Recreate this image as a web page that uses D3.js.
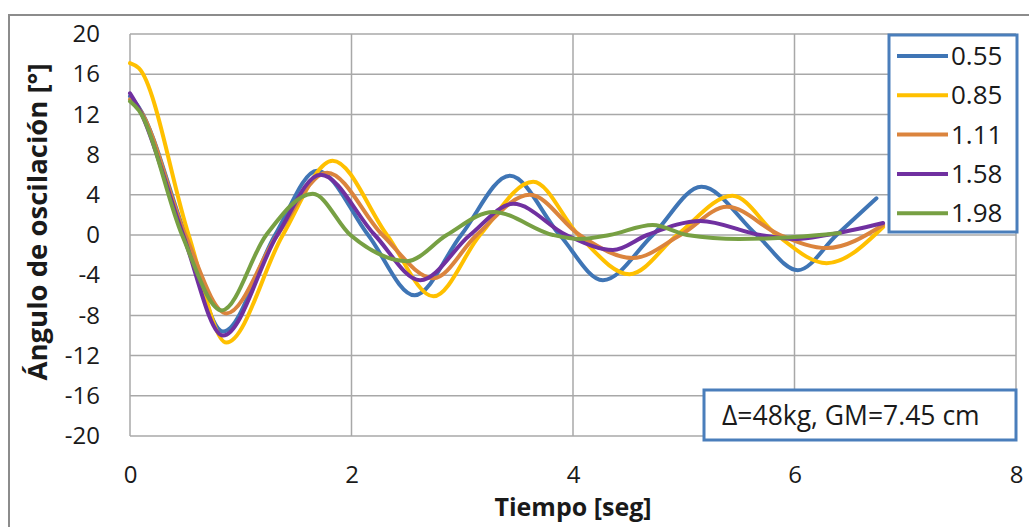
<!DOCTYPE html>
<html>
<head>
<meta charset="utf-8">
<script src="https://cdn.jsdelivr.net/npm/d3@7"></script>
<style>
  body { margin: 0; background: #fff; }
  svg { display: block; font-family: "Open Sans", sans-serif; }
</style>
</head>
<body>
<div id="chart"></div>
<script>
// series: [time (s), angle (deg)]
const s055 = [[0,13.8],[0.08,12.7],[0.5,0],[0.84,-9.6],[1.31,0],[1.69,6.4],[2.15,0],[2.57,-6.0],[2.99,0],[3.43,5.9],[3.88,0],[4.27,-4.5],[4.72,0],[5.16,4.8],[5.66,0],[6.03,-3.5],[6.38,0],[6.74,3.65]];
const s085 = [[0,17.1],[0.08,16.6],[0.53,0],[0.87,-10.7],[1.38,0],[1.83,7.4],[2.32,0],[2.74,-6.1],[3.16,0],[3.64,5.3],[4.05,0],[4.51,-3.9],[4.94,0],[5.44,3.9],[5.84,0],[6.29,-2.8],[6.8,0.8]];
const s111 = [[0,13.5],[0.08,12.6],[0.5,0],[0.87,-7.8],[1.33,0],[1.78,6.2],[2.28,0],[2.74,-4.3],[3.13,0],[3.61,4.0],[4.06,0],[4.54,-2.3],[4.97,0],[5.39,2.8],[5.87,0],[6.29,-1.3],[6.8,1.0]];
const s158 = [[0,14.1],[0.08,12.6],[0.48,0],[0.84,-10.0],[1.33,0],[1.72,6.0],[2.21,0],[2.62,-4.5],[3.07,0],[3.46,3.1],[3.94,0],[4.36,-1.5],[4.67,0],[5.15,1.4],[5.69,0],[6.02,-0.4],[6.29,0],[6.8,1.2]];
const s198 = [[0,13.3],[0.08,12.4],[0.47,0],[0.83,-7.5],[1.23,0],[1.65,4.1],[1.99,0],[2.5,-2.6],[2.86,0],[3.28,2.3],[3.82,0],[4.06,-0.4],[4.33,0],[4.72,1.0],[5.03,0],[5.5,-0.4],[6.0,-0.2],[6.41,0.2]];

const seriesNames = ['0.55', '0.85', '1.11', '1.58', '1.98'];
const seriesColors = ['#3F75B5', '#FFC000', '#DB843D', '#7030A0', '#77A043'];
const seriesData = [s055, s085, s111, s158, s198];

const xTicks = [0, 2, 4, 6, 8];
const yTicks = [-20, -16, -12, -8, -4, 0, 4, 8, 12, 16, 20];

const width = 1029, height = 527;
const margin = { top: 34, right: 13, bottom: 91, left: 130 };
const innerW = width - margin.left - margin.right;
const innerH = height - margin.top - margin.bottom;

const svg = d3.select('#chart').append('svg')
  .attr('width', width)
  .attr('height', height);

// outer chart border
svg.append('rect')
  .attr('x', 9).attr('y', 15)
  .attr('width', 1060).attr('height', 560)
  .attr('fill', 'none')
  .attr('stroke', '#8c8c8c')
  .attr('stroke-width', 2);

const g = svg.append('g')
  .attr('transform', `translate(${margin.left},${margin.top})`);

const x = d3.scaleLinear().domain([0, 8]).range([0, innerW]);
const y = d3.scaleLinear().domain([-20, 20]).range([innerH, 0]);

// grid
g.selectAll('.hgrid')
  .data(yTicks)
  .join('line')
  .attr('x1', 0).attr('x2', innerW)
  .attr('y1', d => y(d)).attr('y2', d => y(d))
  .attr('stroke', '#a8a8a8').attr('stroke-width', 1.5);

g.selectAll('.vgrid')
  .data(xTicks)
  .join('line')
  .attr('y1', 0).attr('y2', innerH)
  .attr('x1', d => x(d)).attr('x2', d => x(d))
  .attr('stroke', '#a8a8a8').attr('stroke-width', 1.5);

// axes (labels only), plain hyphen for negatives like the original
const yAxis = g.append('g')
  .call(d3.axisLeft(y).tickValues(yTicks).tickFormat(d => String(d)).tickSize(0).tickPadding(30));
const xAxis = g.append('g')
  .attr('transform', `translate(0,${innerH})`)
  .call(d3.axisBottom(x).tickValues(xTicks).tickFormat(d => String(d)).tickSize(0).tickPadding(30));
[yAxis, xAxis].forEach(a => {
  a.select('.domain').remove();
  a.selectAll('text')
    .attr('font-family', '"Open Sans", sans-serif')
    .attr('font-size', 24)
    .attr('fill', '#1a1a1a');
});

// lines
const line = d3.line()
  .x(d => x(d[0]))
  .y(d => y(d[1]))
  .curve(d3.curveMonotoneX);

g.selectAll('.series')
  .data(seriesData)
  .join('path')
  .attr('d', line)
  .attr('fill', 'none')
  .attr('stroke', (d, i) => seriesColors[i])
  .attr('stroke-width', 4)
  .attr('stroke-linecap', 'round')
  .attr('stroke-linejoin', 'round');

// legend
const legend = svg.append('g');
legend.append('rect')
  .attr('x', 889).attr('y', 35)
  .attr('width', 128).attr('height', 197)
  .attr('fill', '#fff')
  .attr('stroke', '#4A7EBB')
  .attr('stroke-width', 3);

const items = legend.selectAll('.item')
  .data(seriesNames)
  .join('g')
  .attr('transform', (d, i) => `translate(897,${56 + i * 39.3})`);
items.append('line')
  .attr('x1', 0).attr('x2', 51)
  .attr('stroke', (d, i) => seriesColors[i])
  .attr('stroke-width', 4);
items.append('text')
  .attr('x', 54).attr('y', 9)
  .attr('font-size', 26)
  .attr('fill', '#1a1a1a')
  .text(d => d);

// annotation box
svg.append('rect')
  .attr('x', 704).attr('y', 390)
  .attr('width', 312).attr('height', 50)
  .attr('fill', '#fff')
  .attr('stroke', '#4A7EBB')
  .attr('stroke-width', 3);
svg.append('text')
  .attr('x', 722).attr('y', 425)
  .attr('font-size', 26.5)
  .attr('fill', '#1a1a1a')
  .text('Δ=48kg, GM=7.45 cm');

// axis titles
svg.append('text')
  .attr('x', margin.left + innerW / 2)
  .attr('y', 516)
  .attr('text-anchor', 'middle')
  .attr('font-size', 25)
  .attr('font-weight', 'bold')
  .attr('fill', '#1a1a1a')
  .text('Tiempo [seg]');

svg.append('text')
  .attr('transform', `translate(47,222) rotate(-90)`)
  .attr('text-anchor', 'middle')
  .attr('font-size', 27.5)
  .attr('font-weight', 'bold')
  .attr('fill', '#1a1a1a')
  .text('Ángulo de oscilación [°]');
</script>
</body>
</html>
